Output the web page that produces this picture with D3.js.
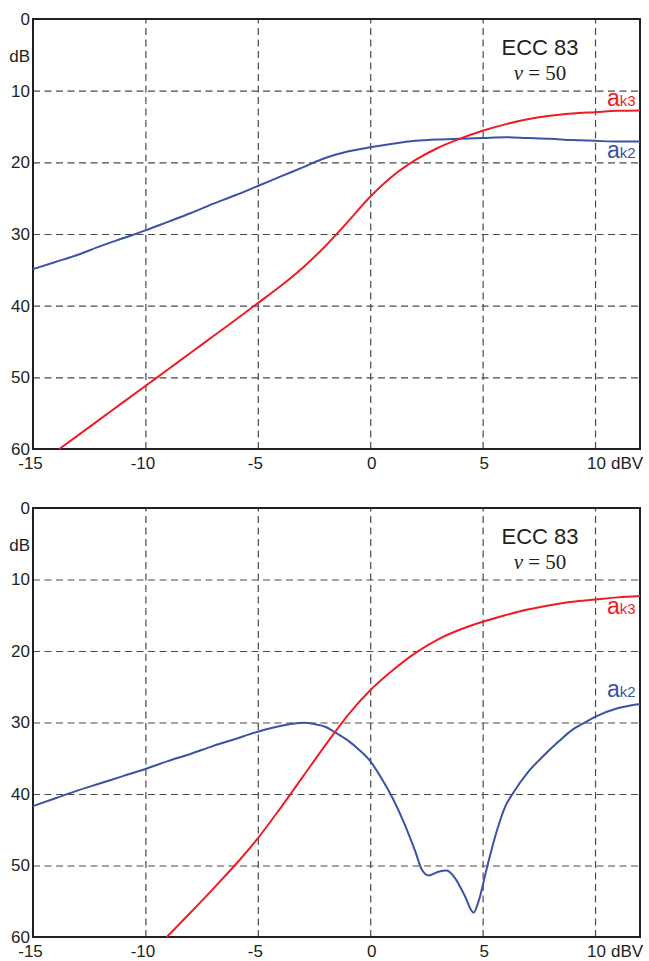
<!DOCTYPE html>
<html>
<head>
<meta charset="utf-8">
<script src="https://cdn.jsdelivr.net/npm/d3@7"></script>
<style>
  body { margin: 0; background: #fff; }
  svg { display: block; font-family: "Liberation Sans", Arial, sans-serif; }
</style>
</head>
<body>
<div id="chart"></div>
<script>
// ECC 83 distortion curves, two panels
var xTicks = [-15, -10, -5, 0, 5, 10]
var yTicks = [0, 10, 20, 30, 40, 50, 60]
var gridY = [10, 20, 30, 40, 50]
var gridX = [-10, -5, 0, 5, 10]

// top panel
var topK3x = [-13.83, -13, -12, -11, -10, -9, -8, -7, -6, -5, -4, -3, -2, -1, 0, 1, 2, 3, 4, 5, 6, 7, 8, 9, 10, 11, 12]
var topK3y = [60, 58.1, 55.8, 53.5, 51.2, 48.9, 46.6, 44.3, 42.0, 39.65, 37.3, 34.7, 31.7, 28.3, 24.8, 21.9, 19.7, 18.0, 16.7, 15.6, 14.7, 14.0, 13.5, 13.2, 13.0, 12.8, 12.75]
var topK2x = [-15, -14, -13, -12, -11, -10, -9, -8, -7, -6, -5, -4, -3, -2, -1, 0, 1, 2, 3, 4, 5, 6, 7, 8, 9, 10, 11, 12]
var topK2y = [34.9, 33.9, 32.9, 31.7, 30.6, 29.5, 28.3, 27.1, 25.8, 24.6, 23.3, 22.0, 20.7, 19.4, 18.5, 17.9, 17.4, 17.0, 16.8, 16.7, 16.6, 16.5, 16.6, 16.7, 16.9, 17.0, 17.1, 17.1]

// bottom panel
var botK3x = [-9.05, -8, -7, -6, -5, -4, -3, -2, -1, 0, 1, 2, 3, 4, 5, 6, 7, 8, 9, 10, 11, 12]
var botK3y = [60, 56.6, 53.3, 49.9, 46.2, 42.0, 37.6, 33.2, 29.0, 25.5, 22.7, 20.3, 18.4, 17.0, 15.9, 15.0, 14.2, 13.6, 13.1, 12.8, 12.5, 12.3]
var botK2x = [-15, -14, -13, -12, -11, -10, -9, -8, -7, -6, -5, -4, -3, -2.5, -2, -1.5, -1, -0.5, 0, 0.5, 1, 1.5, 2, 2.3, 2.6, 3.0, 3.4, 3.8, 4.2, 4.6, 4.8, 5.2, 5.6, 6.0, 6.35, 7.0, 7.6, 8.4, 9.0, 9.6, 10, 11, 12]
var botK2y = [41.7, 40.6, 39.5, 38.5, 37.5, 36.5, 35.4, 34.4, 33.3, 32.3, 31.3, 30.5, 30.05, 30.2, 30.6, 31.5, 32.5, 33.8, 35.4, 37.8, 40.6, 44.0, 48.0, 50.6, 51.4, 50.9, 50.7, 51.9, 54.2, 56.6, 55.2, 50.2, 45.5, 41.8, 39.9, 37.0, 35.0, 32.6, 31.0, 29.9, 29.2, 28.0, 27.4]

var red = '#ee1c24'
var blue = '#3a53a4'

var width = 649
var height = 961
var left = 33
var right = 640

var svg = d3.select('#chart')
  .append('svg')
  .attr('width', width)
  .attr('height', height)

var x = d3.scaleLinear().domain([-15, 12]).range([left, right])

var panels = [
  { top: 19, bottom: 449, k3x: topK3x, k3y: topK3y, k2x: topK2x, k2y: topK2y, k3lab: 87, k2lab: 139 },
  { top: 508, bottom: 937, k3x: botK3x, k3y: botK3y, k2x: botK2x, k2y: botK2y, k3lab: 106, k2lab: 189 }
]

panels.forEach(function(p, i) {
  var y = d3.scaleLinear().domain([0, 60]).range([p.top, p.bottom])
  var g = svg.append('g')

  // dashed grid
  g.append('g')
    .attr('transform', 'translate(' + left + ',0)')
    .call(d3.axisLeft(y).tickValues(gridY).tickSize(-(right - left)).tickFormat(''))
    .call(function(a) { a.select('.domain').remove() })
    .selectAll('line')
    .attr('stroke', '#4a4a4a')
    .attr('stroke-width', 1.2)
    .attr('stroke-dasharray', '7,4.5')

  g.append('g')
    .attr('transform', 'translate(0,' + p.bottom + ')')
    .call(d3.axisBottom(x).tickValues(gridX).tickSize(-(p.bottom - p.top)).tickFormat(''))
    .call(function(a) { a.select('.domain').remove() })
    .selectAll('line')
    .attr('stroke', '#4a4a4a')
    .attr('stroke-width', 1.2)
    .attr('stroke-dasharray', '7,4.5')

  // frame
  g.append('rect')
    .attr('x', left)
    .attr('y', p.top)
    .attr('width', right - left)
    .attr('height', p.bottom - p.top)
    .attr('fill', 'none')
    .attr('stroke', '#231f20')
    .attr('stroke-width', 2)

  // y labels
  var ya = g.append('g')
    .attr('transform', 'translate(' + left + ',0)')
    .call(d3.axisLeft(y).tickValues(yTicks).tickSize(0).tickPadding(3))
  ya.select('.domain').remove()
  ya.selectAll('text')
    .attr('font-size', 17)
    .attr('font-family', '"Liberation Sans", Arial, sans-serif')
    .attr('fill', '#231f20')

  g.append('text')
    .attr('x', 30)
    .attr('y', p.top + 43)
    .attr('text-anchor', 'end')
    .attr('font-size', 17)
    .attr('fill', '#231f20')
    .text('dB')

  // x labels
  var xa = g.append('g')
    .attr('transform', 'translate(0,' + p.bottom + ')')
    .call(d3.axisBottom(x).tickValues(xTicks).tickSize(0).tickPadding(8).tickFormat(function(d) { return String(d) }))
  xa.select('.domain').remove()
  xa.selectAll('text')
    .attr('font-size', 17)
    .attr('font-family', '"Liberation Sans", Arial, sans-serif')
    .attr('fill', '#231f20')
    .attr('dx', function(d) { return d < 0 ? -3 : 1 })

  g.append('text')
    .attr('x', x(10) + 16)
    .attr('y', p.bottom + 20)
    .attr('font-size', 17)
    .attr('fill', '#231f20')
    .text('dBV')

  // curves
  var line = d3.line()
    .x(function(d) { return x(d[0]) })
    .y(function(d) { return y(d[1]) })
    .curve(d3.curveMonotoneX)

  g.append('path')
    .datum(d3.zip(p.k2x, p.k2y))
    .attr('d', line)
    .attr('fill', 'none')
    .attr('stroke', blue)
    .attr('stroke-width', 2)

  g.append('path')
    .datum(d3.zip(p.k3x, p.k3y))
    .attr('d', line)
    .attr('fill', 'none')
    .attr('stroke', red)
    .attr('stroke-width', 2)

  // titles
  g.append('text')
    .attr('x', 540)
    .attr('y', p.top + 36)
    .attr('text-anchor', 'middle')
    .attr('font-size', 22)
    .attr('fill', '#231f20')
    .text('ECC 83')

  var v = g.append('text')
    .attr('x', 540)
    .attr('y', p.top + 61)
    .attr('text-anchor', 'middle')
    .attr('font-size', 21)
    .attr('font-family', '"Liberation Serif", "Times New Roman", serif')
    .attr('fill', '#231f20')
  v.append('tspan').attr('font-style', 'italic').text('v')
  v.append('tspan').text(' = 50')

  // curve labels
  var l3 = g.append('text')
    .attr('x', 607)
    .attr('y', p.top + p.k3lab)
    .attr('fill', red)
  l3.append('tspan').attr('font-size', 23).text('a')
  l3.append('tspan').attr('font-size', 15).text('k3')

  var l2 = g.append('text')
    .attr('x', 607)
    .attr('y', p.top + p.k2lab)
    .attr('fill', blue)
  l2.append('tspan').attr('font-size', 23).text('a')
  l2.append('tspan').attr('font-size', 15).text('k2')
})
</script>
</body>
</html>
